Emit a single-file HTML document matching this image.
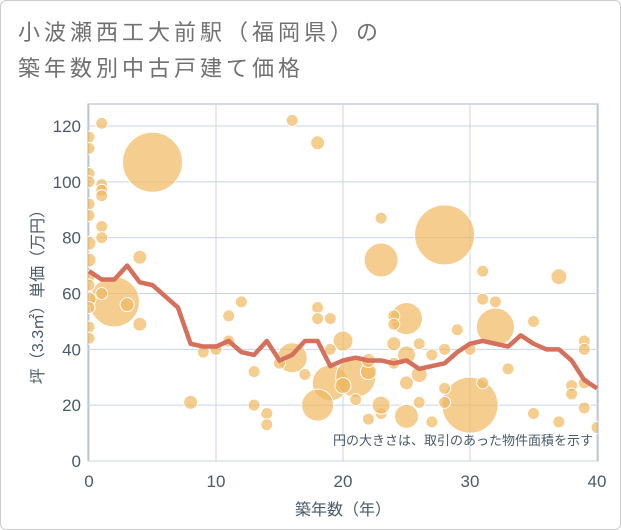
<!DOCTYPE html>
<html><head><meta charset="utf-8"><style>
body{margin:0;background:#fff;}
#wrap{position:relative;width:619px;height:528px;border:1px solid #ccc;border-radius:6px;background:#fff;overflow:hidden;font-family:"Liberation Sans","Noto Sans CJK JP",sans-serif;}
#title{position:absolute;left:17px;top:14px;font-size:22px;line-height:36px;color:#707070;letter-spacing:4px;}
svg{position:absolute;left:0;top:0;}
</style></head><body>
<div id="wrap">
<div id="title">小波瀬西工大前駅（福岡県）の<br>築年数別中古戸建て価格</div>
<svg id="chart" width="621" height="530"></svg>
</div>
<script>
const xTicks=[0,10,20,30,40];
const yTicks=[0,20,40,60,80,100,120];
const lineYears=[0,1,2,3,4,5,6,7,8,9,10,11,12,13,14,15,16,17,18,19,20,21,22,23,24,25,26,27,28,29,30,31,32,33,34,35,36,37,38,39,40];
const linePrices=[68,65,65,70,64,63,59,55,42,41,41,43,39,38,43,36,38,43,43,34,36,37,36,36,35,36,33,34,35,39,42,43,42,41,45,42,40,40,36,29,26];
const bubbleAge=[5,28,2,30,23,25,32,16,19,18,21,25,20,37,3,4,4,8,1,16,18,0,0,0,0,1,1,1,0,0,1,1,0,0,0,0,0,1,0,0,0,12,11,11,10,9,13,13,14,14,17,18,18,19,19,23,24,24,24,24,23,22,26,26,27,27,28,28,28,29,30,31,31,32,31,33,35,35,37,38,38,39,39,39,39,40,15,22,21,26,25,25,23,20,22];
const bubblePrice=[107,81,57,20,72,51,48,37,28,20,30,16,43,66,56,73,49,21,121,122,114,116,112,103,100,99,97,95,92,88,84,80,78,72,66,63,58,60,55,48,44,57,52,43,40,39,32,20,17,13,31,55,51,51,40,87,52,49,42,35,17,15,42,21,38,14,26,21,40,47,40,58,68,57,28,33,50,17,14,27,24,43,40,28,19,12,35,32,22,31,38,28,20,27,36];
const bubbleArea=[30,30,25,28,17,16,19,15,18,16,20,12,10,8,7,7,7,7,6,6,7,6,6,6,6,6,6,6,6,6,6,6,7,7,6,6,7,6,6,6,6,6,6,6,6,6,6,6,6,6,6,6,6,6,6,6,6,6,7,6,6,6,6,6,6,6,6,6,6,6,6,6,6,6,6,6,6,6,6,6,6,6,6,6,6,6,6,8,6,8,9,7,9,8,7];
const NS="http://www.w3.org/2000/svg";
const svg=document.getElementById('chart');
const X0=88,X1=596,Y0=460,Y1=125;
const xs=v=>X0+(v/40)*(X1-X0);
const ys=v=>Y0-(v/120)*(Y0-Y1);
function mk(t,a){const e=document.createElementNS(NS,t);for(const k in a)e.setAttribute(k,a[k]);svg.appendChild(e);return e;}
const clip=mk('clipPath',{id:'pc'});
const cr=document.createElementNS(NS,'rect');cr.setAttribute('x',87);cr.setAttribute('y',103);cr.setAttribute('width',510);cr.setAttribute('height',357);clip.appendChild(cr);
const bg=mk('rect',{x:87,y:103,width:510,height:357,fill:'#fff',stroke:'#aab4c0'});


xTicks.forEach(t=>{const l=mk('line',{x1:xs(t),x2:xs(t),y1:103,y2:460,stroke:'#c8d4e2','stroke-width':1});


const tx=mk('text',{x:xs(t),y:486,'text-anchor':'middle','font-size':17,fill:'#4a5a6a'});tx.textContent=t;

});
yTicks.forEach(t=>{const l=mk('line',{x1:87,x2:597,y1:ys(t),y2:ys(t),stroke:'#c8d4e2','stroke-width':1});


const tx=mk('text',{x:80,y:ys(t)+6,'text-anchor':'end','font-size':17,fill:'#4a5a6a'});tx.textContent=t;

});
const g=mk('g',{'clip-path':'url(#pc)'});
bubbleAge.forEach((a,i)=>{const c=document.createElementNS(NS,'circle');
c.setAttribute('cx',xs(a));c.setAttribute('cy',ys(bubblePrice[i]));c.setAttribute('r',bubbleArea[i]);
c.setAttribute('fill','rgba(240,184,96,0.7)');c.setAttribute('stroke','#fff');c.setAttribute('stroke-width','1');


g.appendChild(c);});
const pl=document.createElementNS(NS,'polyline');
pl.setAttribute('points',lineYears.map((y,i)=>xs(y)+','+ys(linePrices[i])).join(' '));
pl.setAttribute('fill','none');pl.setAttribute('stroke','#d4705c');pl.setAttribute('stroke-width','4.5');pl.setAttribute('stroke-linejoin','round');


g.appendChild(pl);
const note=mk('text',{x:592,y:444,'text-anchor':'end','font-size':13,fill:'#4a5a6a'});note.textContent='円の大きさは、取引のあった物件面積を示す';


const xt=mk('text',{x:342,y:514,'text-anchor':'middle','font-size':16,fill:'#4a5a6a'});xt.textContent='築年数（年）';


const yt=mk('text',{x:0,y:0,'text-anchor':'middle','font-size':16,fill:'#4a5a6a',transform:'translate(42,292) rotate(-90)'});yt.textContent='坪（3.3㎡）単価（万円）';


</script>
</body></html>
